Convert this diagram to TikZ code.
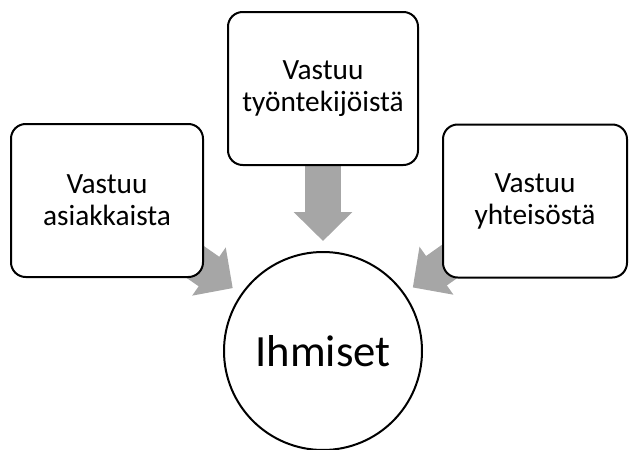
\documentclass[tikz,border=0pt]{standalone}
\usepackage{fontspec}
\setmainfont{Carlito}
\usetikzlibrary{arrows.meta}
\usetikzlibrary{backgrounds}
\definecolor{arrowgray}{HTML}{A6A6A6}

\begin{document}
\begin{tikzpicture}[x=0.75pt,y=-0.75pt,
	vastuubox/.style={draw, line width=1.5pt, rounded corners=11pt, fill=white, align=center,
		minimum height=114.75pt, font=\fontsize{22}{24}\selectfont},
	fatarrow/.style={draw=arrowgray, line width=27pt, shorten >=7.5pt,
		-{Triangle[width=42.75pt, length=21.75pt, fill=arrowgray]}}]
	% frame
	\useasboundingbox (0,0) rectangle (629,450);
	% boxes
	\node[vastuubox, minimum width=144pt] (asiakkaat) at (107,200.5) {Vastuu\\asiakkaista};
	\node[vastuubox, minimum width=142.5pt] (tyontekijat) at (323,88.5) {Vastuu\\työntekijöistä};
	\node[vastuubox, minimum width=138pt] (yhteiso) at (535,201) {Vastuu\\yhteisöstä};
	% circle
	\node[draw, circle, line width=1.5pt, fill=white, minimum size=148.5pt,
		font=\fontsize{33.5}{38}\selectfont] (ihmiset) at (323,351) {Ihmiset};
	% arrows
	\begin{scope}[on background layer]
		\draw[fatarrow] (asiakkaat.center) -- (ihmiset);
		\draw[fatarrow] (tyontekijat.center) -- (ihmiset);
		\draw[fatarrow] (yhteiso.center) -- (ihmiset);
	\end{scope}
\end{tikzpicture}
\end{document}
